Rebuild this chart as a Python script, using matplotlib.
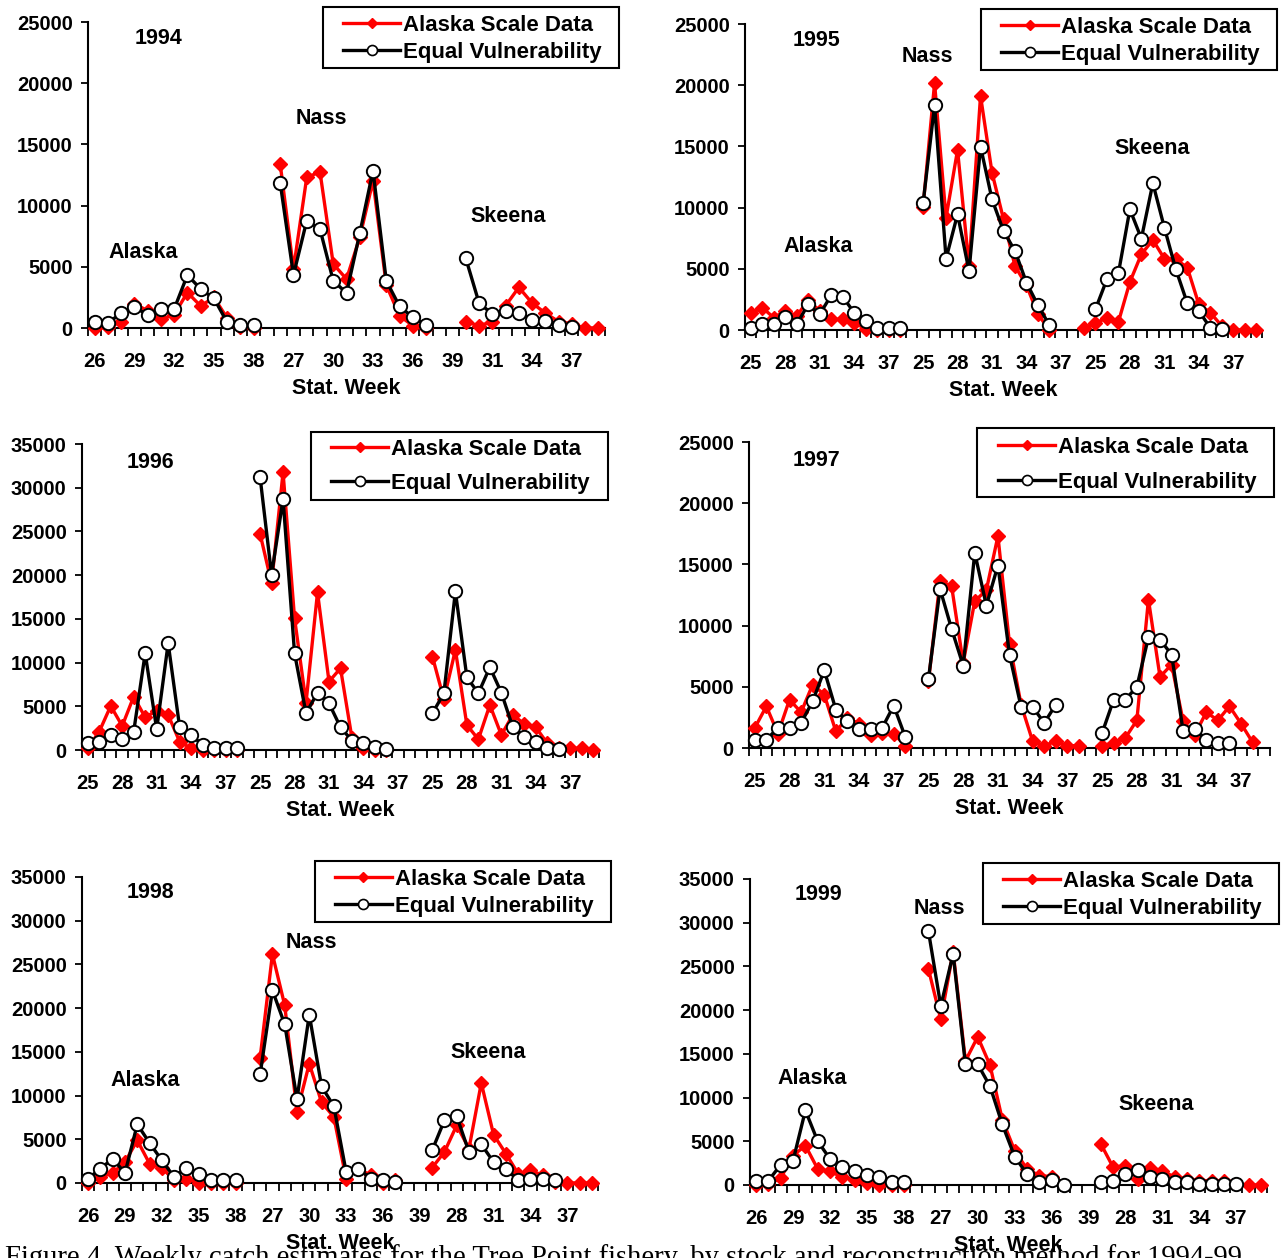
import numpy as np
import matplotlib
matplotlib.use("Agg")
import matplotlib.pyplot as plt
from matplotlib.lines import Line2D
from matplotlib.patches import Rectangle

plt.rcParams['font.family'] = ['Liberation Sans', 'DejaVu Sans']
plt.rcParams['font.weight'] = 'bold'

W, H = 1283, 1258
N_ = None

# ---------------- category labels (stat weeks, per stock segment) ----------------
weeks_1994 = list(range(26, 39)) + list(range(25, 40)) + list(range(29, 40))
weeks_1995 = list(range(25, 40)) + list(range(25, 40)) + list(range(25, 40))
weeks_1996 = list(range(25, 40)) + list(range(25, 40)) + list(range(25, 40))
weeks_1997 = list(range(25, 40)) + list(range(25, 40)) + list(range(25, 40))
weeks_1998 = list(range(26, 39)) + list(range(25, 40)) + list(range(26, 40))
weeks_1999 = list(range(26, 39)) + list(range(25, 40)) + list(range(26, 40))

# ---------------- series values ----------------
# 1994
ask_1994 = ([0, 50, 500, 2000, 1400, 700, 1100, 2900, 1800, 2500, 800, 50, 0]
            + [N_, 13390, 4820, 12300, 12760, 5230, 4000, 7400, 12030, 3510, 1000, 190, 0, N_, N_]
            + [520, 190, 520, 1820, 3320, 2040, 1220, 520, 330, 0, 0])
ev_1994 = ([460, 400, 1220, 1690, 1090, 1550, 1550, 4330, 3180, 2420, 460, 240, 240]
           + [N_, 11840, 4330, 8760, 8080, 3860, 2860, 7730, 12850, 3860, 1770, 870, 240, N_, N_]
           + [5690, 2040, 1140, 1420, 1220, 680, 600, 240, 50, N_, N_])
# 1995
ask_1995 = ([1360, 1830, 1010, 1550, 1140, 2450, 1550, 870, 870, 600, 100, 0, 0, 0, N_]
            + [10080, 20160, 9180, 14710, 5230, 19130, 12860, 9050, 5230, 3650, 1280, 0, N_, N_, 190]
            + [540, 1010, 650, 3920, 6190, 7360, 5830, 5780, 5100, 2100, 1420, 330, 0, 0, 0])
ev_1995 = ([190, 460, 460, 1090, 460, 2100, 1280, 2830, 2720, 1420, 740, 190, 190, 190, N_]
           + [10350, 18370, 5830, 9460, 4820, 14990, 10680, 8090, 6460, 3870, 2020, 380, N_, N_, N_]
           + [1690, 4140, 4630, 9860, 7470, 11990, 8370, 4960, 2180, 1550, 190, 50, N_, N_, N_])
# 1996
ask_1996 = ([190, 2100, 5040, 2750, 6110, 3740, 4500, 4010, 950, 190, 0, 0, 0, 0, N_]
            + [24730, 19080, 31760, 15080, 5420, 18020, 7820, 9350, 1340, 190, 0, 0, N_, N_, N_]
            + [10690, 5800, 11450, 2860, 1220, 5150, 1720, 4010, 2980, 2600, 760, 190, 190, 190, 0])
ev_1996 = ([840, 950, 1720, 1220, 2100, 11070, 2370, 12210, 2600, 1720, 570, 270, 270, 270, N_]
           + [31220, 20040, 28700, 11070, 4200, 6560, 5340, 2600, 1070, 840, 300, 80, N_, N_, N_]
           + [4200, 6490, 18130, 8320, 6490, 9470, 6560, 2600, 1450, 950, 190, 80, N_, N_, N_])
# 1997
ask_1997 = ([1640, 3410, 1170, 3950, 2920, 5180, 4360, 1360, 2450, 1990, 1090, 1230, 1170, 190, N_]
            + [5450, 13630, 13220, 6950, 12000, 12900, 17310, 8530, 3540, 550, 190, 550, 190, 190, N_]
            + [190, 410, 820, 2260, 12130, 5810, 6820, 2180, 1090, 2920, 2260, 3410, 1990, 460, N_])
ev_1997 = ([680, 680, 1640, 1640, 2050, 3820, 6350, 3140, 2180, 1550, 1550, 1640, 3460, 900, N_]
           + [5640, 13000, 9730, 6730, 15950, 11640, 14910, 7630, 3350, 3350, 2050, 3540, N_, N_, N_]
           + [1230, 3950, 3950, 4990, 9050, 8860, 7630, 1360, 1550, 680, 410, 410, N_, N_, N_])
# 1998
ask_1998 = ([0, 690, 1140, 2400, 4880, 2210, 1750, 300, 500, 0, 0, 0, 0]
            + [N_, 14340, 26170, 20330, 8120, 13650, 9230, 7550, 500, 1640, 880, 0, 300, N_, N_]
            + [1750, 3550, 6600, 3930, 11440, 5530, 3360, 1070, 1450, 880, 110, 0, 0, 0])
ev_1998 = ([500, 1640, 2780, 1140, 6710, 4580, 2590, 690, 1750, 990, 300, 300, 300]
           + [N_, 12430, 22040, 18150, 9610, 19260, 11060, 8770, 1260, 1640, 500, 300, 110, N_, N_]
           + [3740, 7170, 7630, 3550, 4420, 2400, 1640, 300, 500, 500, 300, N_, N_, N_])
# 1999
ask_1999 = ([0, 110, 800, 3370, 4510, 1840, 1570, 880, 570, 190, 0, 0, 0]
            + [N_, 24680, 18940, 26700, 14190, 16950, 13700, 7460, 3940, 1840, 1070, 960, 0, N_, N_]
            + [4700, 2030, 2220, 690, 1950, 1640, 880, 690, 500, 500, 420, 110, 0, 0])
ev_1999 = ([500, 500, 2330, 2790, 8530, 5010, 2980, 2100, 1640, 1190, 960, 310, 310]
           + [N_, 29000, 20470, 26430, 13810, 13810, 11290, 6920, 3250, 1260, 310, 570, 40, N_, N_]
           + [310, 500, 1260, 1720, 960, 690, 310, 310, 110, 110, 110, 110, N_, N_])

years = ['1994', '1995', '1996', '1997', '1998', '1999']
weeks = [weeks_1994, weeks_1995, weeks_1996, weeks_1997, weeks_1998, weeks_1999]
ask = [ask_1994, ask_1995, ask_1996, ask_1997, ask_1998, ask_1999]
ev = [ev_1994, ev_1995, ev_1996, ev_1997, ev_1998, ev_1999]
ymax = [25000, 25000, 35000, 25000, 35000, 35000]

# ---------------- layout (pixels) ----------------
# left, right, y of zero, y of top
boxes = [(88, 605, 328, 22), (745, 1262, 330, 24),
         (82, 599, 750, 444), (749, 1270, 748, 442),
         (82, 598, 1183, 877), (750, 1267, 1185, 879)]
year_pos = [(158, 38), (816, 40), (150, 462), (816, 461), (150, 893), (818, 895)]
# legend frame (x0, y0, x1, y1), text start x, first row centre y, row gap (px)
legend_frame = [(323, 7, 619, 68), (981, 9, 1277, 70), (311, 432, 608, 500),
                (977, 428, 1274, 497), (315, 861, 611, 922), (983, 863, 1279, 924)]
legend_text_x = [403, 1061, 391, 1058, 395, 1063]
legend_row_y = [23, 25, 447, 445, 877, 879]
legend_row_gap = [27, 27, 34, 35, 27, 27]
stock_labels = [
    [('Alaska', 143, 253), ('Nass', 321, 118), ('Skeena', 508, 217)],
    [('Nass', 927, 56), ('Alaska', 818, 247), ('Skeena', 1152, 148)],
    [], [],
    [('Nass', 311, 943), ('Alaska', 145, 1081), ('Skeena', 488, 1053)],
    [('Nass', 939, 909), ('Alaska', 812, 1078), ('Skeena', 1156, 1105)],
]

fig = plt.figure(figsize=(W / 100, H / 100), dpi=100)

def fx(x):
    return x / W

def fy(y):
    return 1 - y / H

RED = '#ff0000'
LFS = 16.0
em = LFS * 100 / 72.0
row_h = 21.3
for i in range(6):
    l, r, y0, yt = boxes[i]
    ax = fig.add_axes([fx(l), fy(y0), (r - l) / W, (y0 - yt) / H])
    n = len(weeks[i])
    x = np.arange(n)
    a = np.array([np.nan if v is None else v for v in ask[i]], dtype=float)
    e = np.array([np.nan if v is None else v for v in ev[i]], dtype=float)
    ax.plot(x, a, color=RED, lw=2.4, marker='D', ms=7.0, mfc=RED, mec=RED,
            clip_on=False, zorder=3, label='Alaska Scale Data')
    ax.plot(x, e, color='black', lw=2.4, marker='o', ms=9.6, mfc='white', mec='black',
            mew=1.4, clip_on=False, zorder=4, label='Equal Vulnerability')
    ax.set_xlim(-0.5, n - 0.5)
    ax.set_ylim(0, ymax[i])
    ax.set_yticks(np.arange(0, ymax[i] + 1, 5000))
    ax.set_yticklabels([str(int(v)) for v in np.arange(0, ymax[i] + 1, 5000)])
    major = list(range(0, n, 3))
    ax.set_xticks(major)
    ax.set_xticklabels([str(weeks[i][k]) for k in major])
    ax.set_xticks(np.arange(-0.5, n, 1.0), minor=True)
    ax.tick_params(axis='x', which='major', length=0, pad=17, labelsize=14.5)
    ax.tick_params(axis='x', which='minor', length=6, width=1.3, direction='out')
    ax.tick_params(axis='y', which='major', length=5, width=1.3, direction='out',
                   pad=6, labelsize=14.5)
    for s in ['top', 'right']:
        ax.spines[s].set_visible(False)
    for s in ['left', 'bottom']:
        ax.spines[s].set_linewidth(1.5)
    ax.set_xlabel('Stat. Week', fontsize=15.5, fontweight='bold', labelpad=5)
    ax.patch.set_alpha(0)

    handles = [Line2D([], [], color=RED, lw=2.4, marker='D', ms=5.4, mfc=RED, mec=RED),
               Line2D([], [], color='black', lw=2.4, marker='o', ms=7.2, mfc='white',
                      mec='black', mew=1.2)]
    hl_px = 57
    htp_px = 3
    ax_x = legend_text_x[i] - hl_px - htp_px
    ax_y = legend_row_y[i] - 22.3 / 2 + 3
    ls = (legend_row_gap[i] - row_h) / em
    leg = ax.legend(handles, ['Alaska Scale Data', 'Equal Vulnerability'],
                    loc='upper left', bbox_to_anchor=(fx(ax_x), fy(ax_y)),
                    bbox_transform=fig.transFigure, fontsize=LFS, frameon=False,
                    borderpad=0, labelspacing=ls, handlelength=hl_px / em,
                    handletextpad=htp_px / em, borderaxespad=0)
    for t in leg.get_texts():
        t.set_fontweight('bold')
    fx0, fy0, fx1, fy1 = legend_frame[i]
    fig.add_artist(Rectangle((fx(fx0), fy(fy1)), (fx1 - fx0) / W, (fy1 - fy0) / H,
                             transform=fig.transFigure, fill=False, edgecolor='black',
                             lw=1.5, zorder=5))

    yx, yy = year_pos[i]
    fig.text(fx(yx), fy(yy), years[i], ha='center', va='center', fontsize=15.5,
             fontweight='bold')
    for name, sx, sy in stock_labels[i]:
        fig.text(fx(sx), fy(sy), name, ha='center', va='center', fontsize=15.5,
                 fontweight='bold')

fig.text(fx(5), fy(1244), 'Figure 4. Weekly catch estimates for the Tree Point fishery, '
         'by stock and reconstruction method for 1994-99.',
         ha='left', va='top', fontsize=20.6, family='Liberation Serif', fontweight='normal',
         zorder=0)

fig.savefig('out.png', dpi=100)
